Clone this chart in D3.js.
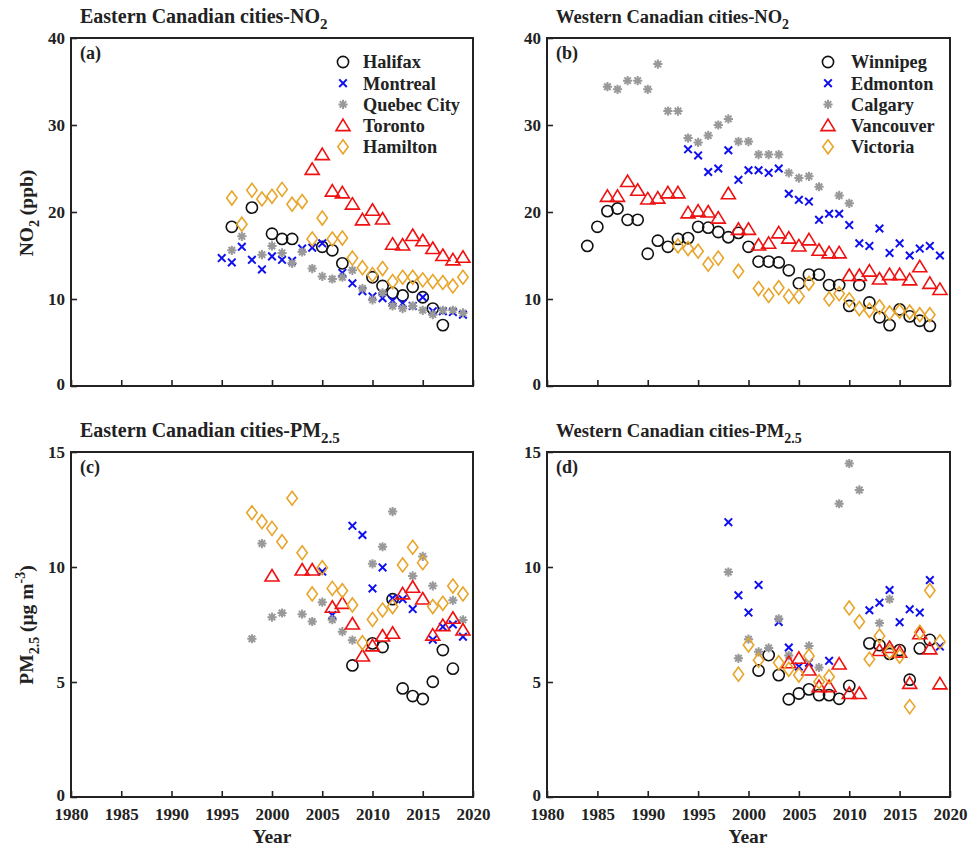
<!DOCTYPE html>
<html><head><meta charset="utf-8">
<script src="https://cdn.jsdelivr.net/npm/d3@7"></script>
<style>body{margin:0;background:#fff}svg{display:block}text{font-family:"Liberation Serif","Times New Roman",serif;font-weight:bold;fill:#222}</style>
</head><body>
<svg id="c" width="973" height="850"></svg>
<script>
// ---------- DATA ----------
const yearTicks = [1980,1985,1990,1995,2000,2005,2010,2015,2020];
const no2Ticks = [0,10,20,30,40];
const pmTicks = [0,5,10,15];
const eastCities = ["Halifax","Montreal","Quebec City","Toronto","Hamilton"];
const westCities = ["Winnipeg","Edmonton","Calgary","Vancouver","Victoria"];

const halifaxNO2 = [[1996,18.3],[1998,20.5],[2000,17.5],[2001,16.9],[2002,16.9],[2005,16.0],[2006,15.6],[2007,14.1],[2010,12.5],[2011,11.5],[2012,10.7],[2013,10.4],[2014,11.4],[2015,10.2],[2016,8.9],[2017,7.0]];
const montrealNO2 = [[1995,14.7],[1996,14.2],[1997,16.0],[1998,14.5],[1999,13.4],[2000,14.9],[2001,14.5],[2002,14.4],[2003,15.8],[2004,15.9],[2005,16.4],[2007,13.0],[2008,11.8],[2009,10.9],[2010,10.3],[2011,10.1],[2012,9.8],[2013,9.5],[2014,9.2],[2015,10.2],[2016,8.6],[2017,8.6],[2018,8.5],[2019,8.2]];
const quebecNO2 = [[1996,15.6],[1997,17.2],[1999,15.1],[2000,16.1],[2001,15.3],[2002,14.1],[2003,15.4],[2004,13.5],[2005,12.6],[2006,12.3],[2007,12.5],[2008,13.3],[2009,11.2],[2010,9.9],[2011,10.7],[2012,9.2],[2013,8.9],[2014,9.2],[2015,8.7],[2016,8.2],[2017,8.7],[2018,8.7],[2019,8.4]];
const torontoNO2 = [[2004,24.9],[2005,26.6],[2006,22.4],[2007,22.2],[2008,20.9],[2009,19.1],[2010,20.2],[2011,19.2],[2012,16.3],[2013,16.2],[2014,17.3],[2015,16.7],[2016,15.8],[2017,15.0],[2018,14.5],[2019,14.8]];
const hamiltonNO2 = [[1996,21.6],[1997,18.6],[1998,22.5],[1999,21.5],[2000,21.8],[2001,22.6],[2002,20.9],[2003,21.2],[2004,16.9],[2005,19.3],[2006,16.9],[2007,17.0],[2008,14.7],[2009,13.6],[2010,12.8],[2011,13.5],[2012,12.0],[2013,12.5],[2014,12.5],[2015,12.2],[2016,12.0],[2017,11.9],[2018,11.5],[2019,12.5]];

const winnipegNO2 = [[1984,16.1],[1985,18.3],[1986,20.1],[1987,20.4],[1988,19.1],[1989,19.1],[1990,15.2],[1991,16.7],[1992,16.0],[1993,16.9],[1994,17.0],[1995,18.3],[1996,18.2],[1997,17.7],[1998,17.1],[1999,17.6],[2000,16.0],[2001,14.3],[2002,14.3],[2003,14.2],[2004,13.3],[2005,11.8],[2006,12.8],[2007,12.8],[2008,11.6],[2009,11.6],[2010,9.2],[2011,11.6],[2012,9.6],[2013,7.9],[2014,7.0],[2015,8.8],[2016,8.0],[2017,7.5],[2018,6.9]];
const edmontonNO2 = [[1994,27.2],[1995,26.5],[1996,24.6],[1997,25.0],[1998,27.1],[1999,23.7],[2000,24.8],[2001,24.8],[2002,24.5],[2003,25.0],[2004,22.1],[2005,21.4],[2006,21.2],[2007,19.1],[2008,19.8],[2009,19.8],[2010,18.5],[2011,16.4],[2012,16.1],[2013,18.1],[2014,15.3],[2015,16.4],[2016,15.0],[2017,15.8],[2018,16.1],[2019,15.0]];
const calgaryNO2 = [[1986,34.4],[1987,34.1],[1988,35.1],[1989,35.1],[1990,34.1],[1991,37.0],[1992,31.6],[1993,31.6],[1994,28.5],[1995,28.0],[1996,28.8],[1997,30.0],[1998,30.7],[1999,28.1],[2000,28.1],[2001,26.6],[2002,26.6],[2003,26.6],[2004,24.5],[2005,23.9],[2006,24.1],[2007,22.9],[2009,21.9],[2010,21.0]];
const vancouverNO2 = [[1986,21.8],[1987,21.8],[1988,23.5],[1989,22.5],[1990,21.5],[1991,21.6],[1992,22.2],[1993,22.2],[1994,19.9],[1995,20.1],[1996,20.0],[1997,19.3],[1998,22.1],[1999,18.0],[2000,18.0],[2001,16.2],[2002,16.4],[2003,17.6],[2004,17.0],[2005,16.1],[2006,16.8],[2007,15.6],[2008,15.3],[2009,15.3],[2010,12.7],[2011,12.7],[2012,13.2],[2013,12.3],[2014,12.8],[2015,12.8],[2016,12.2],[2017,13.7],[2018,11.8],[2019,11.1]];
const victoriaNO2 = [[1993,16.1],[1994,15.8],[1995,15.5],[1996,14.0],[1997,14.7],[1999,13.2],[2001,11.2],[2002,10.4],[2003,11.3],[2004,10.3],[2005,10.3],[2006,11.8],[2008,10.0],[2009,10.6],[2010,9.9],[2011,8.9],[2012,8.7],[2013,9.1],[2014,8.4],[2015,8.6],[2016,8.5],[2017,8.2],[2018,8.2]];

const halifaxPM = [[2008,5.72],[2010,6.68],[2011,6.52],[2012,8.6],[2013,4.72],[2014,4.39],[2015,4.26],[2016,5.01],[2017,6.39],[2018,5.58]];
const montrealPM = [[2005,9.8],[2006,7.91],[2008,11.79],[2009,11.39],[2010,9.07],[2011,9.98],[2012,8.64],[2013,8.6],[2014,8.17],[2016,6.84],[2017,7.4],[2018,7.5],[2019,6.97]];
const quebecPM = [[1998,6.88],[1999,11.02],[2000,7.82],[2001,8.0],[2003,7.95],[2004,7.63],[2005,8.47],[2006,7.71],[2007,7.19],[2008,6.82],[2010,10.14],[2011,10.88],[2012,12.41],[2014,9.61],[2015,10.46],[2016,9.18],[2018,8.55],[2019,7.7]];
const torontoPM = [[2000,9.61],[2003,9.87],[2004,9.87],[2006,8.25],[2007,8.42],[2008,7.52],[2009,6.13],[2010,6.57],[2011,7.0],[2012,7.12],[2013,8.83],[2014,9.12],[2015,8.61],[2016,7.04],[2017,7.45],[2018,7.77],[2019,7.26]];
const hamiltonPM = [[1998,12.36],[1999,11.97],[2000,11.68],[2001,11.1],[2002,12.99],[2003,10.62],[2004,8.83],[2005,9.97],[2006,9.07],[2007,8.97],[2008,8.35],[2009,6.71],[2010,7.72],[2011,8.13],[2012,8.28],[2013,10.09],[2014,10.86],[2015,10.19],[2016,8.28],[2017,8.42],[2018,9.17],[2019,8.83]];

const winnipegPM = [[2001,5.5],[2002,6.17],[2003,5.3],[2004,4.25],[2005,4.5],[2006,4.68],[2007,4.43],[2008,4.43],[2009,4.27],[2010,4.83],[2012,6.68],[2013,6.6],[2014,6.22],[2015,6.39],[2016,5.1],[2017,6.46],[2018,6.83]];
const edmontonPM = [[1998,11.95],[1999,8.77],[2000,8.02],[2001,9.22],[2003,7.61],[2004,6.5],[2005,5.67],[2006,5.84],[2008,5.92],[2012,8.12],[2013,8.45],[2014,9.0],[2015,7.6],[2016,8.16],[2017,8.02],[2018,9.43],[2019,6.54]];
const calgaryPM = [[1998,9.78],[1999,6.03],[2000,6.86],[2001,6.31],[2002,6.48],[2003,7.75],[2004,6.15],[2006,6.57],[2007,5.63],[2009,12.75],[2010,14.5],[2011,13.35],[2013,7.56],[2014,8.6]];
const vancouverPM = [[2004,5.84],[2005,6.03],[2006,5.52],[2007,4.8],[2008,4.8],[2009,5.78],[2010,4.5],[2011,4.5],[2013,6.37],[2014,6.5],[2015,6.3],[2016,4.94],[2017,7.1],[2018,6.44],[2019,4.92]];
const victoriaPM = [[1999,5.34],[2000,6.61],[2001,5.95],[2003,5.84],[2004,5.55],[2005,5.3],[2006,6.13],[2007,5.01],[2008,5.23],[2010,8.22],[2011,7.62],[2012,5.99],[2013,7.0],[2014,6.31],[2015,6.12],[2016,3.93],[2017,7.16],[2018,8.98],[2019,6.75]];

// ---------- STYLE ----------
const markerKinds = ["circle","x","asterisk","triangle","diamond"];
const colors = {circle:"#111",x:"#1010ee",asterisk:"#999",triangle:"#f01010",diamond:"#e8a52a"};

const svg = d3.select("#c");

function drawMarker(g, kind, x, y){
  const c = colors[kind];
  if(kind==="circle"){
    g.append("circle").attr("cx",x).attr("cy",y).attr("r",5.6).attr("fill","none").attr("stroke",c).attr("stroke-width",1.6);
  } else if(kind==="x"){
    const s=3.8;
    g.append("path").attr("d",`M${x-s},${y-s}L${x+s},${y+s}M${x-s},${y+s}L${x+s},${y-s}`).attr("stroke",c).attr("stroke-width",2).attr("fill","none");
  } else if(kind==="asterisk"){
    const s=4.6, d=s*0.707;
    g.append("path").attr("d",`M${x-s},${y}L${x+s},${y}M${x},${y-s}L${x},${y+s}M${x-d},${y-d}L${x+d},${y+d}M${x-d},${y+d}L${x+d},${y-d}`).attr("stroke",c).attr("stroke-width",2).attr("fill","none");
  } else if(kind==="triangle"){
    g.append("path").attr("d",`M${x},${y-6.5}L${x+7},${y+5}L${x-7},${y+5}Z`).attr("stroke",c).attr("stroke-width",1.6).attr("fill","none");
  } else {
    g.append("path").attr("d",`M${x},${y-7}L${x+5.2},${y}L${x},${y+7}L${x-5.2},${y}Z`).attr("stroke",c).attr("stroke-width",1.6).attr("fill","none");
  }
}

function panel(opt){
  const x = d3.scaleLinear().domain([1980,2020]).range([opt.x0,opt.x1]);
  const y = d3.scaleLinear().domain(opt.ydom).range([opt.y1,opt.y0]);
  const g = svg.append("g");
  // axes
  const xa = d3.axisBottom(x).tickValues(yearTicks).tickSize(-6).tickPadding(11)
      .tickFormat(opt.xLabels ? d3.format("d") : () => "");
  const gx = g.append("g").attr("transform",`translate(0,${opt.y1})`).call(xa);
  const ya = d3.axisLeft(y).tickValues(opt.yticks).tickSize(-6).tickPadding(6).tickFormat(d3.format("d"));
  const gy = g.append("g").attr("transform",`translate(${opt.x0},0)`).call(ya);
  [gx,gy].forEach(a=>{
    a.select(".domain").remove();
    a.selectAll(".tick line").attr("stroke","#222").attr("stroke-width",1.6);
    a.selectAll(".tick text").attr("font-size",17).attr("font-family","Liberation Serif").attr("font-weight","bold").attr("fill","#222");
  });
  gy.selectAll(".tick text").filter(d=>d===0).attr("dy","0.2em");
  g.append("rect").attr("x",opt.x0).attr("y",opt.y0).attr("width",opt.x1-opt.x0).attr("height",opt.y1-opt.y0)
    .attr("fill","none").attr("stroke","#222").attr("stroke-width",2);
  // title
  const t = g.append("text").attr("x",opt.x0+9).attr("y",opt.y0-15.5).attr("font-size",opt.tSize);
  t.append("tspan").text(opt.title);
  t.append("tspan").attr("font-size",opt.tSize*0.75).attr("dy",6).text(opt.sub);
  g.append("text").attr("x",opt.x0+9).attr("y",opt.y0+21).attr("font-size",18).text(opt.tag);
  // data
  const mg = g.append("g");
  opt.series.forEach((s,i)=>{
    s.forEach(d=>drawMarker(mg, markerKinds[i], x(d[0]), y(d[1])));
  });
  // legend
  if(opt.legend){
    const lg = g.append("g");
    opt.legend.forEach((name,i)=>{
      const ly = opt.y0 + 24 + i*21.2;
      drawMarker(lg, markerKinds[i], opt.legX, ly);
      lg.append("text").attr("x",opt.legTX).attr("y",ly).attr("dy","0.35em").attr("font-size",18.3).text(name);
    });
  }
  return {x,y,g};
}

panel({x0:71,x1:473,y0:38,y1:386,ydom:[0,40],yticks:no2Ticks,xLabels:false,tSize:20,
  title:"Eastern Canadian cities-NO",sub:"2",tag:"(a)",
  series:[halifaxNO2,montrealNO2,quebecNO2,torontoNO2,hamiltonNO2],legend:eastCities,legX:343,legTX:363});
panel({x0:547,x1:950,y0:38,y1:386,ydom:[0,40],yticks:no2Ticks,xLabels:false,tSize:18.5,
  title:"Western Canadian cities-NO",sub:"2",tag:"(b)",
  series:[winnipegNO2,edmontonNO2,calgaryNO2,vancouverNO2,victoriaNO2],legend:westCities,legX:828,legTX:851});
panel({x0:71,x1:473,y0:452,y1:797,ydom:[0,15],yticks:pmTicks,xLabels:true,tSize:20,
  title:"Eastern Canadian cities-PM",sub:"2.5",tag:"(c)",
  series:[halifaxPM,montrealPM,quebecPM,torontoPM,hamiltonPM]});
panel({x0:547,x1:950,y0:452,y1:797,ydom:[0,15],yticks:pmTicks,xLabels:true,tSize:18.6,
  title:"Western Canadian cities-PM",sub:"2.5",tag:"(d)",
  series:[winnipegPM,edmontonPM,calgaryPM,vancouverPM,victoriaPM]});

// axis titles
const yl1 = svg.append("text").attr("transform","translate(33,213) rotate(-90)").attr("text-anchor","middle").attr("font-size",19.5);
yl1.append("tspan").text("NO");
yl1.append("tspan").attr("font-size",14).attr("dy",6).text("2");
yl1.append("tspan").attr("dy",-6).text(" (ppb)");

const yl2 = svg.append("text").attr("transform","translate(33,625) rotate(-90)").attr("text-anchor","middle").attr("font-size",19.5);
yl2.append("tspan").text("PM");
yl2.append("tspan").attr("font-size",14).attr("dy",6).text("2.5");
yl2.append("tspan").attr("dy",-6).text(" (μg m");
yl2.append("tspan").attr("font-size",14).attr("dy",-8).text("-3");
yl2.append("tspan").attr("dy",8).text(")");

svg.append("text").attr("x",272).attr("y",843).attr("text-anchor","middle").attr("font-size",19.5).text("Year");
svg.append("text").attr("x",748).attr("y",843).attr("text-anchor","middle").attr("font-size",19.5).text("Year");
</script>
</body></html>
